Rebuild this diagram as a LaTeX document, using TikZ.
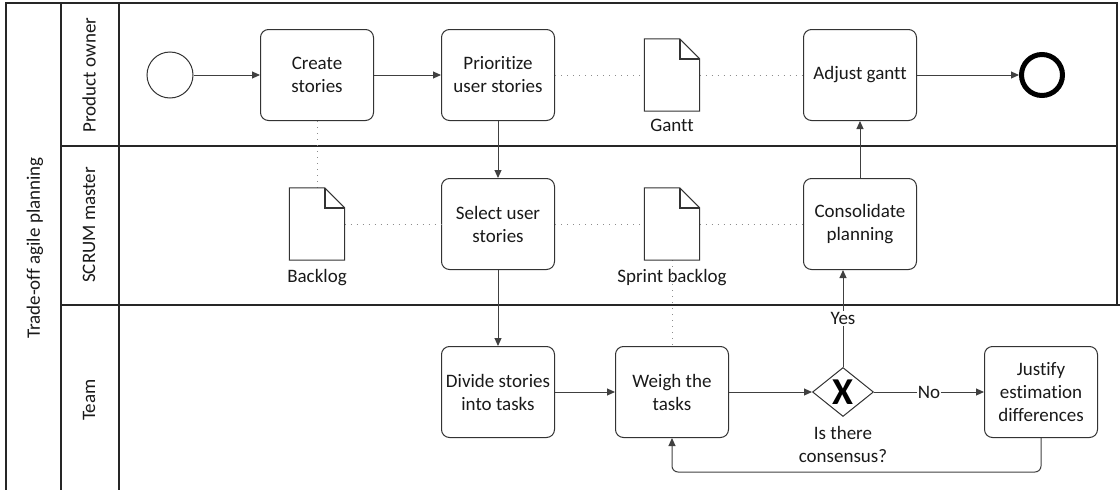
\documentclass[tikz,border=0pt]{standalone}
\usepackage{fontspec}
\setmainfont{Carlito}[Ligatures=NoCommon]
\usetikzlibrary{shapes.geometric,arrows.meta,calc}

% document symbol with a folded top-right corner, drawn around a named node
\newcommand\docpath[1]{%
  \draw[ink, fill=white] (#1.north west) -- ($(#1.north east)+(-20,0)$)
     -- ($(#1.north east)+(0,20)$) -- (#1.south east) -- (#1.south west) -- cycle;
  \draw[ink, line width=1.6pt] ($(#1.north east)+(-20,0)$) -- ($(#1.north east)+(-20,20)$)
     -- ($(#1.north east)+(0,20)$);}

\begin{document}
\begin{tikzpicture}[x=1pt,y=-1pt,
  font=\fontsize{19}{23}\selectfont,
  ink/.style={draw=black!80, line width=1pt},
  task/.style={ink, rounded corners=8pt, minimum width=113pt, minimum height=91pt,
               align=center, inner sep=2pt, text=black!90},
  flow/.style={draw=black!75, line width=1pt, -{Triangle[length=8pt,width=7pt]}},
  assoc/.style={draw=black!45, line width=1pt, dash pattern=on 1pt off 5pt},
  docbox/.style={minimum width=55pt, minimum height=72pt, inner sep=0pt},
  lanetext/.style={rotate=90, text=black!90, inner sep=0pt},
  lbl/.style={text=black!90, align=center, inner sep=0pt},
  pool/.style={draw=black!85, line width=1.2pt},
  gateway/.style={diamond, ink, inner sep=0pt, minimum width=61pt, minimum height=49pt},
]
\useasboundingbox (0,0) rectangle (1120,490);

% pool and lanes
\draw[pool] (6,493) -- (6,3) -- (1117,3) -- (1117,305);
\draw[pool] (61,3) -- (61,493);
\draw[pool] (119,3) -- (119,493);
\draw[pool] (61,146) -- (1117,146);
\draw[pool] (61,305) -- (1120,305);

\node[lanetext] (pooltitle) at (35,248) {Trade-off agile planning};
\node[lanetext] (lanepo) at (89,75) {Product owner};
\node[lanetext] (lanesm) at (89,225) {SCRUM master};
\node[lanetext] (laneteam) at (89,400) {Team};

% events
\node[circle, ink, minimum size=46pt, inner sep=0pt] (start) at (170,75) {};
\node[circle, draw=black, line width=5pt, minimum size=41pt, inner sep=0pt] (end) at (1042,75) {};

% tasks
\node[task] (create) at (317,75) {Create\\stories};
\node[task] (prio) at (498,75) {Prioritize\\user stories};
\node[task] (adjust) at (860,75) {Adjust gantt};
\node[task] (select) at (498,224) {Select user\\stories};
\node[task] (cons) at (860,224) {Consolidate\\planning};
\node[task] (divide) at (498,392) {Divide stories\\into tasks};
\node[task] (weigh) at (672,392) {Weigh the\\tasks};
\node[task] (justify) at (1041,392) {Justify\\estimation\\differences};

% gateway
\node[gateway] (gw) at (843,392) {};
\node[inner sep=0pt, font=\fontsize{38}{38}\selectfont\bfseries] (gwx) at (gw) {X};
\node[lbl] (gwlabel) at (843,444) {Is there\\consensus?};

% data objects
\node[docbox] (gantt) at (672,75) {};
\node[docbox] (backlog) at (317,224) {};
\node[docbox] (sprint) at (672,224) {};

% associations
\draw[assoc] (prio.east) -- (gantt.west);
\draw[assoc] (gantt.east) -- (adjust.west);
\draw[assoc] (create.south) -- (backlog.north);
\draw[assoc] (backlog.east) -- (select.west);
\draw[assoc] (select.east) -- (sprint.west);
\draw[assoc] (sprint.east) -- (cons.west);
\draw[assoc] (sprint.south) -- (weigh.north);

\docpath{gantt}
\docpath{backlog}
\docpath{sprint}
\node[lbl, anchor=base] (ganttlabel) at (672,131) {Gantt};
\node[lbl, anchor=base] (backloglabel) at (317,282) {Backlog};
\node[lbl, anchor=base] (sprintlabel) at (672,282) {Sprint backlog};

% sequence flows
\draw[flow] (start) -- (create);
\draw[flow] (create) -- (prio);
\draw[flow] (adjust) -- (end);
\draw[flow] (prio) -- (select);
\draw[flow] (select) -- (divide);
\draw[flow] (divide) -- (weigh);
\draw[flow] (weigh) -- (gw);
\draw[flow] (gw.north) -- node[lbl, fill=white, inner sep=1pt] (yes) {Yes} (gw.north |- cons.south);
\draw[flow] (gw.east) -- node[lbl, fill=white, inner sep=1pt] (no) {No} (justify.west);
\draw[flow] (cons) -- (adjust);
\draw[flow, rounded corners=6pt] (justify.south) -- ++(0,34) -| (weigh.south);
\end{tikzpicture}
\end{document}
